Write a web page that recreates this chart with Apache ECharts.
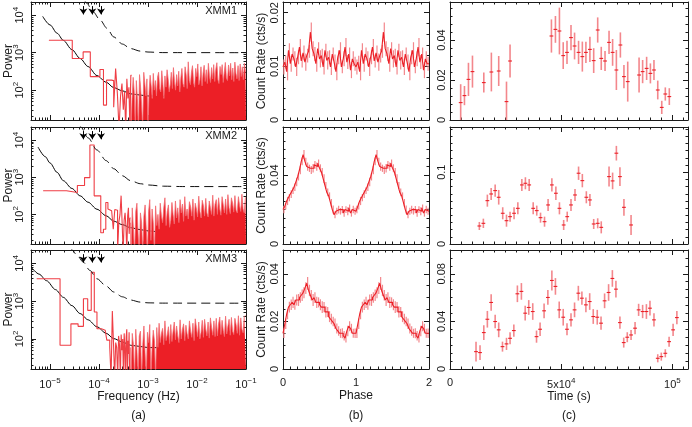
<!DOCTYPE html>
<html>
<head>
    <meta charset="utf-8">
    <title>XMM timing</title>
    <style>
        body { margin: 0; background: #fff; }
        #chart { width: 692px; height: 427px; }
    </style>
</head>
<body>
    <div id="chart"></div>
    <script src="https://cdn.jsdelivr.net/npm/echarts@6.0.0/dist/echarts.min.js"></script>
    <script>
        // ---------- (a) power spectra ----------
        // fundamental frequency of each periodogram (Hz)
        var pdsF0 = [1.9e-5, 1.45e-5, 1.07e-5];
        // first resolved bins, k = 1, 2, ...
        var pdsLow1 = [2150, 700, 1050, 230, 230, 355, 40, 185, 185, 180, 35, 380, 80, 9, 70, 150, 30, 90, 8, 200, 60, 120, 10, 250];
        var pdsLow2 = [435, 390, 600, 980, 7400, 316, 316, 32, 40, 210, 140, 125, 130, 40, 135, 130, 9, 60, 100, 320, 55, 9, 70, 110, 45, 9, 90, 150, 30, 80];
        var pdsLow3 = [3900, 68, 250, 215, 1150, 570, 5800, 515, 186, 186, 170, 170, 160, 93, 93, 60, 9, 550, 75, 9, 80, 60, 9, 120, 70, 9, 130, 50, 100, 9, 140, 60, 9, 110, 180, 9, 90, 40, 150, 9];
        // dense high frequency part, read on a log grid from noiseStart to noiseEnd
        var noiseStart = 4.4e-4, noiseEnd = 0.1;
        var noise1 = [150, 8, 60, 220, 90, 10, 180, 60, 8, 260, 120, 40, 9, 300, 150, 70, 200, 9, 90, 250, 130, 60, 280, 100, 180,
            70, 220, 300, 110, 90, 330, 150, 60, 240, 120, 350, 200, 90, 140, 300, 110, 400, 170, 100, 260, 130, 320, 90, 210, 380,
            150, 120, 420, 260, 110, 570, 180, 140, 300, 450, 160, 120, 380, 230, 500, 140, 190, 420, 130, 280, 460, 170, 350, 150, 520, 240, 160, 400, 200, 480,
            170, 360, 540, 190, 150, 430, 260, 480, 160, 300, 550, 210, 180, 470, 240, 520, 190, 390, 170, 560, 280, 200, 450, 180, 500, 230, 420, 190, 520, 300];
        var noise2 = [60, 8, 150, 40, 8, 120, 200, 30, 8, 110, 60, 8, 90, 180, 40, 8, 120, 250, 20, 140, 60, 8, 170, 50, 100,
            40, 200, 90, 60, 150, 280, 50, 120, 180, 45, 70, 210, 100, 55, 230, 80, 150, 60, 250, 110, 190, 65, 300, 90, 140,
            75, 220, 160, 90, 260, 70, 200, 140, 85, 310, 120, 80, 240, 170, 90, 270, 110, 85, 230, 150, 100, 330, 90, 190, 250,
            100, 280, 140, 95, 300, 180, 110, 260, 100, 340, 150, 105, 280, 200, 115, 320, 130, 110, 300, 170, 120, 350, 140, 110, 290];
        var noise3 = [60, 9, 140, 70, 9, 180, 50, 9, 120, 160, 9, 70, 220, 40, 9, 150, 80, 240, 9, 60, 170, 90, 9, 200, 60,
            260, 80, 140, 190, 70, 300, 90, 130, 210, 75, 240, 85, 160, 280, 95, 220, 120, 80, 320, 100, 180, 250, 90, 230, 140,
            100, 300, 160, 110, 260, 90, 340, 200, 115, 280, 100, 150, 310, 110, 330, 180, 120, 280, 105, 360, 200, 125, 300, 115, 350,
            120, 250, 380, 130, 310, 170, 115, 400, 135, 220, 330, 125, 370, 160, 130, 350, 240, 140, 410, 125, 360, 180, 145, 390, 420];
        // red-noise model (solid)
        var modelF1 = [7.1e-6, 1e-5, 1.4e-5, 1.87e-5, 2.8e-5, 4.13e-5, 6e-5, 9.1e-5, 1.4e-4, 2e-4, 3e-4, 4.4e-4, 7e-4, 1e-3, 3e-3, 0.1];
        var modelP1 = [9300, 5520, 3300, 2140, 1210, 700, 426, 245, 163, 117, 96, 80, 74, 70, 68, 68];
        var modelF2 = [5.7e-6, 8e-6, 1e-5, 1.4e-5, 1.87e-5, 2.8e-5, 4.13e-5, 6e-5, 9.1e-5, 1.4e-4, 2e-4, 3e-4, 4.4e-4, 7e-4, 1e-3, 2.1e-3, 0.1];
        var modelP2 = [6500, 3590, 2430, 1350, 810, 500, 316, 213, 138, 92, 66, 53, 44, 39, 36, 33, 33];
        var modelF3 = [4.2e-6, 6e-6, 8.5e-6, 1.3e-5, 1.87e-5, 2.8e-5, 4.13e-5, 6e-5, 9.1e-5, 1.4e-4, 2e-4, 3e-4, 4.4e-4, 7e-4, 1e-3, 3e-3, 0.1];
        var modelP3 = [7800, 5180, 3470, 2010, 1260, 760, 468, 320, 209, 141, 102, 83, 68, 63, 59, 58, 58];
        // detection level (dashed)
        var limitF1 = [5e-5, 5.6e-5, 7.5e-5, 1.06e-4, 1.45e-4, 2e-4, 3e-4, 4.4e-4, 7e-4, 1e-3, 2e-3, 0.1];
        var limitP1 = [26000, 21000, 12500, 7400, 4500, 2630, 1700, 1290, 1100, 1040, 1005, 1000];
        var limitF2 = [3.8e-5, 4.2e-5, 6e-5, 9.1e-5, 1.4e-4, 2e-4, 3e-4, 4.4e-4, 7e-4, 1e-3, 2.1e-3, 5e-3, 0.1];
        var limitP2 = [28000, 23000, 11500, 5400, 2800, 1700, 1100, 810, 670, 620, 575, 562, 560];
        var limitF3 = [2.5e-5, 2.8e-5, 3.6e-5, 4.8e-5, 6.5e-5, 9.1e-5, 1.4e-4, 2e-4, 3e-4, 4.4e-4, 7e-4, 1e-3, 2e-3, 0.1];
        var limitP3 = [27000, 23000, 16000, 10700, 6500, 3900, 2500, 1740, 1300, 1070, 940, 900, 885, 880];
        // marked frequencies (arrows), and the power span of each arrow
        var arrowFreq = [4.8e-5, 7.3e-5, 1.1e-4];
        var arrowSpan = [17500, 10500];
        var panelNames = ['XMM1', 'XMM2', 'XMM3'];

        // ---------- (b) folded light curves, 40 bins per cycle ----------
        var foldRate1 = [0.0099, 0.0108, 0.0090, 0.0130, 0.0105, 0.0123, 0.0114, 0.0099, 0.0117, 0.0136,
            0.0110, 0.0125, 0.0108, 0.0120, 0.0128, 0.0164, 0.0133, 0.0123, 0.0105, 0.0133,
            0.0114, 0.0120, 0.0099, 0.0130, 0.0111, 0.0117, 0.0099, 0.0123, 0.0108, 0.0090,
            0.0117, 0.0130, 0.0099, 0.0114, 0.0136, 0.0108, 0.0123, 0.0093, 0.0114, 0.0105];
        var foldErr1 = [0.0014, 0.0012, 0.0016, 0.0013, 0.0015, 0.0012, 0.0014, 0.0017, 0.0013, 0.0015,
            0.0012, 0.0014, 0.0016, 0.0013, 0.0012, 0.0018, 0.0014, 0.0013, 0.0015, 0.0012,
            0.0016, 0.0013, 0.0014, 0.0012, 0.0017, 0.0013, 0.0015, 0.0012, 0.0014, 0.0016,
            0.0013, 0.0015, 0.0012, 0.0014, 0.0017, 0.0013, 0.0012, 0.0015, 0.0014, 0.0013];
        var foldRate2 = [0.020, 0.022, 0.025, 0.027, 0.029, 0.031, 0.033, 0.036, 0.039, 0.043,
            0.048, 0.052, 0.048, 0.045, 0.044, 0.043, 0.044, 0.046, 0.045, 0.047,
            0.044, 0.042, 0.038, 0.034, 0.030, 0.028, 0.024, 0.020, 0.017, 0.019,
            0.020, 0.019, 0.020, 0.018, 0.020, 0.019, 0.021, 0.018, 0.020, 0.019];
        var foldErr2 = [0.0022, 0.0020, 0.0024, 0.0021, 0.0023, 0.0020, 0.0022, 0.0025, 0.0021, 0.0024,
            0.0023, 0.0026, 0.0022, 0.0024, 0.0021, 0.0023, 0.0025, 0.0022, 0.0024, 0.0021,
            0.0023, 0.0022, 0.0025, 0.0021, 0.0023, 0.0020, 0.0022, 0.0024, 0.0021, 0.0020,
            0.0023, 0.0019, 0.0021, 0.0022, 0.0020, 0.0023, 0.0019, 0.0021, 0.0022, 0.0020];
        var foldRate3 = [0.015, 0.019, 0.023, 0.026, 0.027, 0.028, 0.027, 0.029, 0.029, 0.030,
            0.031, 0.032, 0.034, 0.036, 0.033, 0.031, 0.029, 0.030, 0.028, 0.028,
            0.027, 0.026, 0.026, 0.024, 0.024, 0.022, 0.021, 0.020, 0.019, 0.017,
            0.016, 0.015, 0.015, 0.014, 0.013, 0.016, 0.018, 0.017, 0.015, 0.015];
        var foldErr3 = [0.0020, 0.0022, 0.0021, 0.0023, 0.0022, 0.0024, 0.0021, 0.0023, 0.0025, 0.0022,
            0.0024, 0.0023, 0.0025, 0.0027, 0.0024, 0.0022, 0.0025, 0.0023, 0.0024, 0.0021,
            0.0023, 0.0025, 0.0022, 0.0024, 0.0021, 0.0023, 0.0022, 0.0020, 0.0022, 0.0021,
            0.0020, 0.0019, 0.0021, 0.0020, 0.0019, 0.0022, 0.0021, 0.0020, 0.0019, 0.0020];

        // ---------- (c) binned light curves ----------
        var lcHalfBin = 850;  // s
        var lcTime1 = [4800, 6500, 8300, 10100, 15200, 18600, 21900, 25400, 27000,
            45600, 47400, 49200, 50900, 52600, 54400, 56000, 57800, 59500, 61100, 62900,
            64600, 66400, 68000, 69700, 71500, 73100, 74800, 76600, 78200, 79900,
            85000, 86600, 88400, 90100, 91700, 93400, 95200, 96800, 98600];
        var lcRate1 = [0.0087, 0.0122, 0.0203, 0.0242, 0.0187, 0.0240, 0.0245, 0.0092, 0.0295,
            0.0420, 0.0453, 0.0445, 0.0322, 0.0338, 0.0412, 0.0370, 0.0338, 0.0317, 0.0338, 0.0353,
            0.0297, 0.0450, 0.0308, 0.0295, 0.0388, 0.0338, 0.0250, 0.0375, 0.0217, 0.0192,
            0.0225, 0.0242, 0.0258, 0.0233, 0.0250, 0.0150, 0.0063, 0.0130, 0.0117];
        var lcErr1 = [0.0092, 0.0048, 0.0083, 0.0080, 0.0050, 0.0097, 0.0075, 0.0100, 0.0083,
            0.0083, 0.0067, 0.0117, 0.0067, 0.0058, 0.0063, 0.0067, 0.0058, 0.0075, 0.0053, 0.0063,
            0.0062, 0.0063, 0.0058, 0.0050, 0.0058, 0.0067, 0.0100, 0.0063, 0.0058, 0.0100,
            0.0087, 0.0058, 0.0058, 0.0050, 0.0050, 0.0047, 0.0033, 0.0033, 0.0042];
        var lcTime2 = [13200, 15000, 16800, 18500, 20300, 21900, 23700, 25400, 27000, 28800,
            30500, 32300, 33900, 35600, 37400, 39000, 40700, 42500, 44100, 45800,
            47600, 49200, 51100, 52700, 54400, 56200, 57800, 59500, 61300, 62900,
            64600, 66400, 68000, 71500, 73100, 74800, 76400, 78200, 81400];
        var lcRate2 = [0.0251, 0.0288, 0.0604, 0.0697, 0.0744, 0.0651, 0.0428, 0.0325, 0.0381, 0.0428,
            0.0497, 0.0823, 0.0846, 0.0823, 0.0497, 0.0465, 0.0367, 0.0311, 0.0544, 0.0823,
            0.0707, 0.0497, 0.0265, 0.0381, 0.0544, 0.0683, 0.0986, 0.0883, 0.0651, 0.0614,
            0.0279, 0.0288, 0.0232, 0.0939, 0.0879, 0.1265, 0.0939, 0.0511, 0.0265];
        var lcErr2 = [0.0056, 0.0065, 0.0084, 0.0084, 0.0084, 0.0102, 0.0084, 0.0084, 0.0070, 0.0084,
            0.0084, 0.0084, 0.0084, 0.0084, 0.0084, 0.0070, 0.0070, 0.0070, 0.0084, 0.0093,
            0.0093, 0.0084, 0.0070, 0.0070, 0.0084, 0.0084, 0.0093, 0.0093, 0.0084, 0.0084,
            0.0070, 0.0070, 0.0084, 0.0139, 0.0116, 0.0102, 0.0130, 0.0116, 0.0139];
        var lcTime3 = [11700, 13500, 15200, 16800, 18500, 20300, 21900, 23600, 25400, 27000,
            28700, 30300, 32100, 33800, 35400, 37200, 38900, 40500, 42300, 44000,
            45800, 47400, 49100, 50900, 52600, 54400, 56000, 57700, 59300, 61100,
            62800, 64400, 66200, 67900, 69500, 71300, 73000, 74600, 76400, 78100,
            79700, 81400, 83200, 84800, 86600, 88300, 89900, 91700, 93400, 95000,
            96800, 98500, 100300, 102000];
        var lcRate3 = [0.0146, 0.0138, 0.0306, 0.0418, 0.0559, 0.0399, 0.0329, 0.0188, 0.0211, 0.0258,
            0.0323, 0.0632, 0.0652, 0.0469, 0.0517, 0.0483, 0.0272, 0.0334, 0.0489, 0.0601,
            0.0744, 0.0694, 0.0497, 0.0435, 0.0334, 0.0413, 0.0497, 0.0637, 0.0595, 0.0539,
            0.0567, 0.0441, 0.0435, 0.0385, 0.0573, 0.0643, 0.0761, 0.0671, 0.0390, 0.0222,
            0.0267, 0.0286, 0.0343, 0.0497, 0.0483, 0.0483, 0.0511, 0.0413, 0.0090, 0.0104,
            0.0132, 0.0230, 0.0329, 0.0432];
        var lcErr3 = [0.0084, 0.0062, 0.0062, 0.0070, 0.0070, 0.0056, 0.0062, 0.0042, 0.0051, 0.0051,
            0.0051, 0.0070, 0.0070, 0.0062, 0.0062, 0.0070, 0.0051, 0.0056, 0.0062, 0.0062,
            0.0084, 0.0070, 0.0070, 0.0070, 0.0051, 0.0056, 0.0062, 0.0062, 0.0056, 0.0062,
            0.0070, 0.0062, 0.0062, 0.0056, 0.0062, 0.0070, 0.0070, 0.0070, 0.0051, 0.0042,
            0.0042, 0.0042, 0.0051, 0.0051, 0.0056, 0.0062, 0.0062, 0.0056, 0.0034, 0.0034,
            0.0034, 0.0042, 0.0051, 0.0056];

        // ---------- styles / layout ----------
        var INK = '#1a1a1a';
        var RED = '#ec1f26';
        var RED_LINE = '#ef3e45';
        var SPIKE = '#f26a70';
        var PINK = '#f3878c';
        var FONT = 'Liberation Sans';
        var COLS = [[31, 215], [283, 146], [450, 238]];
        var ROWS = [[2, 118], [127, 117], [250, 119]];

        var RICH = {
            b: { fontSize: 11, fontFamily: FONT, color: INK, lineHeight: 15 },
            s: { fontSize: 8, fontFamily: FONT, color: INK, lineHeight: 9, verticalAlign: 'top' }
        };

        function sciLabel(v) {
            if (v === 0) return '0';
            var e = Math.floor(Math.log10(v) + 1e-9);
            var m = Math.round(v / Math.pow(10, e));
            var ex = e < 0 ? '\u2212' + (-e) : String(e);
            return '{b|' + (m === 1 ? '' : m + 'x') + '10}{s|' + ex + '}';
        }
        function tickFmt(interval, sci) {
            return function (v) {
                var n = v / interval;
                if (Math.abs(n - Math.round(n)) > 1e-6) return '';
                return sci ? sciLabel(v) : String(+v.toFixed(4));
            };
        }
        function logMinors(min, max) {
            var out = [];
            for (var d = Math.floor(Math.log10(min)); d <= Math.ceil(Math.log10(max)); d++) {
                for (var m = 2; m <= 9; m++) {
                    var v = m * Math.pow(10, d);
                    if (v > min && v < max) out.push(v);
                }
            }
            return out;
        }

        var freqSpec = { type: 'log', min: 4.1e-6, max: 0.1, majors: [1e-5, 1e-4, 1e-3, 1e-2, 1e-1], fmt: sciLabel, name: 'Frequency (Hz)', nameGap: 21, margin: 8 };
        var powerSpec = { type: 'log', min: 16, max: 22500, majors: [1e2, 1e3, 1e4], fmt: sciLabel, rotate: 90, margin: 4 };
        var phaseSpec = { min: 0, max: 2, interval: 1, minor: 10, name: 'Phase', nameGap: 21, margin: 8 };
        var timeSpec = { min: 0, max: 107000, interval: 50000, minor: 10, sci: true, name: 'Time (s)', nameGap: 21, margin: 8 };
        var foldSpecs = [
            { min: 0, max: 0.022, interval: 0.01, minor: 5 },
            { min: 0, max: 0.068, interval: 0.04, minor: 8 },
            { min: 0, max: 0.05, interval: 0.02, minor: 4 }
        ];
        var lcSpecs = [
            { min: 0, max: 0.059, interval: 0.02, minor: 5 },
            { min: 0, max: 0.163, interval: 0.1, minor: 10 },
            { min: 0, max: 0.1, interval: 0.04, minor: 6 }
        ];
        foldSpecs.concat(lcSpecs).forEach(function (s) { s.rotate = 90; s.margin = 3; });
        // vertical axis titles: [text, centre x]
        var yTitles = [['Power', 9], ['Count Rate (cts/s)', 262]];

        var grids = [], xAxes = [], yAxes = [], series = [];

        function makeAxis(gi, pos, s, showLabel) {
            return {
                type: s.type || 'value', gridIndex: gi, position: pos,
                min: s.min, max: s.max, interval: s.interval,
                axisLine: { show: true, onZero: false, lineStyle: { color: INK, width: 1 } },
                axisTick: { show: true, inside: true, length: 5, customValues: s.majors, lineStyle: { color: INK, width: 1 } },
                minorTick: { show: !!s.minor, splitNumber: s.minor || 5, length: 2.5, lineStyle: { color: INK, width: 1 } },
                splitLine: { show: false },
                axisLabel: {
                    show: showLabel, customValues: s.majors, formatter: s.fmt || tickFmt(s.interval, s.sci),
                    rotate: s.rotate || 0, margin: s.margin || 4, color: INK, fontSize: 11, fontFamily: FONT, rich: RICH
                },
                name: showLabel && s.name ? s.name : '',
                nameLocation: 'middle', nameGap: s.nameGap || 20,
                nameTextStyle: { color: INK, fontSize: 12, fontFamily: FONT }
            };
        }
        function makeLogMinorAxis(gi, pos, s) {
            return {
                type: 'log', gridIndex: gi, position: pos, min: s.min, max: s.max,
                axisLine: { show: false }, axisLabel: { show: false }, splitLine: { show: false },
                axisTick: { show: true, inside: true, length: 2.5, customValues: logMinors(s.min, s.max), lineStyle: { color: INK, width: 1 } }
            };
        }
        function addPanel(row, col, xs, ys) {
            var gi = grids.length;
            grids.push({ left: COLS[col][0], width: COLS[col][1], top: ROWS[row][0], height: ROWS[row][1], containLabel: false, outerBoundsMode: 'none' });
            var ax = { x: xAxes.length, y: yAxes.length };
            xAxes.push(makeAxis(gi, 'bottom', xs, row === 2));
            yAxes.push(makeAxis(gi, 'left', ys, true));
            xAxes.push(makeAxis(gi, 'top', xs, false));
            yAxes.push(makeAxis(gi, 'right', ys, false));
            if (xs.type === 'log') { xAxes.push(makeLogMinorAxis(gi, 'bottom', xs)); xAxes.push(makeLogMinorAxis(gi, 'top', xs)); }
            if (ys.type === 'log') { yAxes.push(makeLogMinorAxis(gi, 'left', ys)); yAxes.push(makeLogMinorAxis(gi, 'right', ys)); }
            return ax;
        }

        function pairs(xs, ys) { return xs.map(function (x, i) { return [x, ys[i]]; }); }
        function histEdges(f0, vals) {
            var d = vals.map(function (v, i) { return [(i + 0.5) * f0, v]; });
            d.push([(vals.length + 0.5) * f0, vals[vals.length - 1]]);
            return d;
        }
        function onLogGrid(vals, a, b) {
            var la = Math.log10(a), step = (Math.log10(b) - la) / (vals.length - 1);
            return vals.map(function (v, i) { return [Math.pow(10, la + i * step), v]; });
        }
        function foldSteps(rate) {
            var both = rate.concat(rate), n = both.length;
            var d = both.map(function (v, i) { return [i * 2 / n, v]; });
            d.push([2, both[n - 1]]);
            return d;
        }
        function foldBars(rate, err) {
            var r2 = rate.concat(rate), e2 = err.concat(err), n = r2.length;
            return r2.map(function (v, i) { return [(i + 0.5) * 2 / n, v - e2[i], v + e2[i]]; });
        }

        function barItem(params, api) {
            var a = api.coord([api.value(0), api.value(1)]);
            var b = api.coord([api.value(0), api.value(2)]);
            return { type: 'line', shape: { x1: a[0], y1: a[1], x2: b[0], y2: b[1] }, style: { stroke: PINK, lineWidth: 1.2 } };
        }
        function crossItem(params, api) {
            var t = api.value(0), v = api.value(1), e = api.value(2);
            var top = api.coord([t, v + e]), bot = api.coord([t, v - e]);
            var l = api.coord([t - lcHalfBin, v]), r = api.coord([t + lcHalfBin, v]);
            return {
                type: 'group', children: [
                    { type: 'line', shape: { x1: top[0], y1: top[1], x2: bot[0], y2: bot[1] }, style: { stroke: PINK, lineWidth: 1.6 } },
                    { type: 'line', shape: { x1: l[0], y1: l[1], x2: r[0], y2: r[1] }, style: { stroke: RED, lineWidth: 1.1 } }
                ]
            };
        }

        var pdsLow = [pdsLow1, pdsLow2, pdsLow3];
        var noise = [noise1, noise2, noise3];
        var modelF = [modelF1, modelF2, modelF3], modelP = [modelP1, modelP2, modelP3];
        var limitF = [limitF1, limitF2, limitF3], limitP = [limitP1, limitP2, limitP3];
        var foldRate = [foldRate1, foldRate2, foldRate3], foldErr = [foldErr1, foldErr2, foldErr3];
        var lcTime = [lcTime1, lcTime2, lcTime3], lcRate = [lcRate1, lcRate2, lcRate3], lcErr = [lcErr1, lcErr2, lcErr3];

        for (var r = 0; r < 3; r++) {
            // (a)
            var a = addPanel(r, 0, freqSpec, powerSpec);
            series.push({
                type: 'line', xAxisIndex: a.x, yAxisIndex: a.y, data: pairs(modelF[r], modelP[r]),
                smooth: 0.3, smoothMonotone: 'x', showSymbol: false, silent: true,
                lineStyle: { color: '#000', width: 1 }, z: 2
            });
            series.push({
                type: 'line', xAxisIndex: a.x, yAxisIndex: a.y, data: onLogGrid(noise[r], noiseStart, noiseEnd),
                step: 'middle', showSymbol: false, silent: true,
                lineStyle: { color: SPIKE, width: 0.8 }, areaStyle: { color: RED, opacity: 1, origin: 'start' }, z: 3
            });
            series.push({
                type: 'line', xAxisIndex: a.x, yAxisIndex: a.y, data: histEdges(pdsF0[r], pdsLow[r]),
                step: 'end', showSymbol: false, silent: true,
                lineStyle: { color: RED_LINE, width: 1.1 }, z: 3
            });
            series.push({
                type: 'line', xAxisIndex: a.x, yAxisIndex: a.y, data: pairs(limitF[r], limitP[r]),
                smooth: 0.3, smoothMonotone: 'x', showSymbol: false, silent: true,
                lineStyle: { color: '#111', width: 1, type: [9, 5] }, z: 4,
                markLine: {
                    silent: true, symbol: ['none', 'arrow'], symbolSize: 6, label: { show: false },
                    lineStyle: { color: '#000', width: 1, type: 'solid' },
                    data: arrowFreq.map(function (f) { return [{ coord: [f, arrowSpan[0]] }, { coord: [f, arrowSpan[1]] }]; })
                }
            });

            // (b)
            var b = addPanel(r, 1, phaseSpec, foldSpecs[r]);
            series.push({
                type: 'custom', xAxisIndex: b.x, yAxisIndex: b.y, data: foldBars(foldRate[r], foldErr[r]),
                renderItem: barItem, clip: true, silent: true, z: 2
            });
            series.push({
                type: 'line', xAxisIndex: b.x, yAxisIndex: b.y, data: foldSteps(foldRate[r]),
                step: 'end', showSymbol: false, silent: true,
                lineStyle: { color: RED, width: 1.1 }, z: 3
            });

            // (c)
            var c = addPanel(r, 2, timeSpec, lcSpecs[r]);
            series.push({
                type: 'custom', xAxisIndex: c.x, yAxisIndex: c.y,
                data: lcTime[r].map(function (t, i) { return [t, lcRate[r][i], lcErr[r][i]]; }),
                renderItem: crossItem, clip: true, silent: true, z: 2
            });
        }

        var graphics = panelNames.map(function (name, i) {
            return {
                type: 'text', x: COLS[0][0] + COLS[0][1] - 9, y: ROWS[i][0] + 9,
                style: { text: name, align: 'right', verticalAlign: 'middle', fill: INK, fontSize: 11, fontFamily: FONT }
            };
        });
        ['(a)', '(b)', '(c)'].forEach(function (t, i) {
            graphics.push({
                type: 'text', x: COLS[i][0] + COLS[i][1] / 2, y: 416,
                style: { text: t, align: 'center', verticalAlign: 'middle', fill: INK, fontSize: 12, fontFamily: FONT }
            });
        });
        ROWS.forEach(function (row) {
            yTitles.forEach(function (yt) {
                graphics.push({
                    type: 'text', x: yt[1], y: row[0] + row[1] / 2, rotation: Math.PI / 2,
                    style: { text: yt[0], align: 'center', verticalAlign: 'middle', fill: INK, fontSize: 12, fontFamily: FONT }
                });
            });
        });

        var chart = echarts.init(document.getElementById('chart'));
        chart.setOption({
            animation: false,
            backgroundColor: '#fff',
            textStyle: { fontFamily: FONT },
            grid: grids,
            xAxis: xAxes,
            yAxis: yAxes,
            graphic: graphics,
            series: series
        });
    </script>
</body>
</html>
